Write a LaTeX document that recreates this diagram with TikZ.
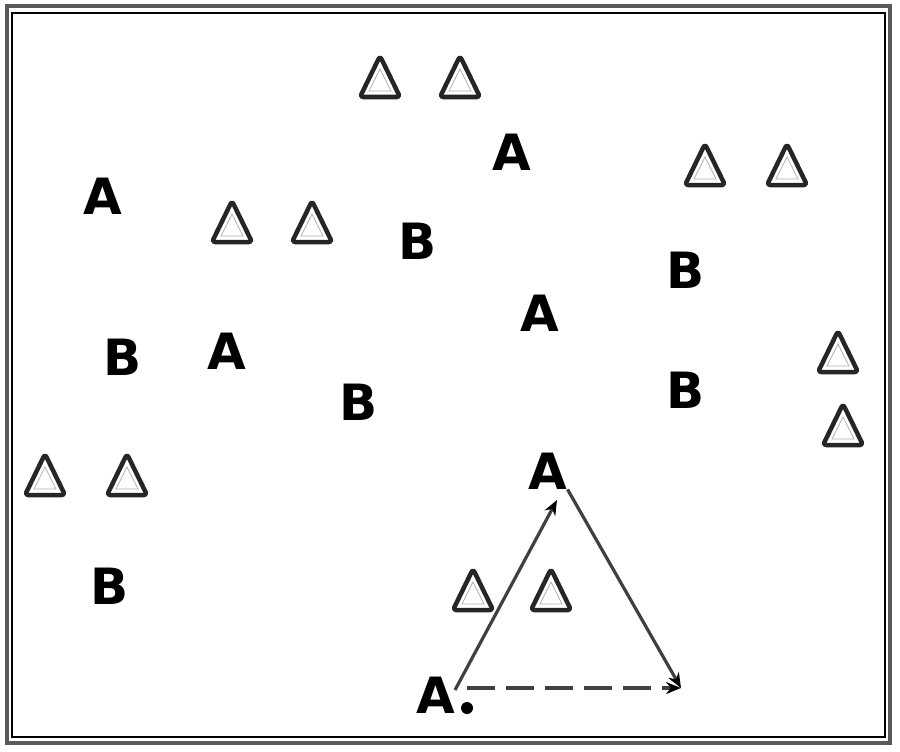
\documentclass[tikz,border=0pt]{standalone}
\usepackage{fontspec}
\setmainfont{DejaVu Sans}
\usetikzlibrary{arrows.meta}
\tikzset{
  letter/.style={inner sep=0pt, font=\fontsize{50}{50}\bfseries\selectfont, text=black},
  conn/.style={draw=gray!50!black, line width=3.2pt, -{Stealth[length=15pt,width=12pt,color=black]}},
  tri/.style={draw=black!85, line width=4.5pt, rounded corners=3pt, line join=round},
  triin/.style={draw=gray!60, line width=0.8pt},
}
\newcommand{\warntri}[2]{%
  \draw[tri] (#1,#2) ++(0,-21) -- ++(20,41) -- ++(-40,0) -- cycle;
  \draw[triin] (#1,#2) ++(0,-8) -- ++(11,22) -- ++(-22,0) -- cycle;
}
\begin{document}
\begin{tikzpicture}[x=1pt,y=-1pt]
\useasboundingbox (0,0) rectangle (900,752);
\fill[white] (0,0) rectangle (900,752);
% border
\draw[gray!70!black, line width=4pt] (6.5,6.5) rectangle (890,743);
\draw[black, line width=1.2pt] (12,13) rectangle (885,737);
% triangles
\warntri{380}{77}
\warntri{460}{77}
\warntri{705}{165}
\warntri{787}{165}
\warntri{232}{222}
\warntri{312}{222}
\warntri{838}{352}
\warntri{843}{425}
\warntri{45}{475}
\warntri{127}{475}
\warntri{473}{590}
\warntri{551}{590}
% letters
\node[letter] (a1) at (103,196) {A};
\node[letter] (a2) at (512,152) {A};
\node[letter] (a3) at (227,351) {A};
\node[letter] (a4) at (540,313) {A};
\node[letter] (a5) at (548,471) {A};
\node[letter] (a6) at (436,695) {A};
\node[letter] (b1) at (418,241) {B};
\node[letter] (b2) at (686,270) {B};
\node[letter] (b3) at (123,357) {B};
\node[letter] (b4) at (359,402) {B};
\node[letter] (b5) at (686,390) {B};
\node[letter] (b6) at (110,586) {B};
% small ball
\node[circle, fill=black, inner sep=0pt, minimum size=12pt] (ball) at (467,708) {};
% end point
\coordinate (tip) at (681,688);
% connectors
\draw[conn] (455,690) -- (557,500);
\draw[conn] (a5.south east) -- (tip);
\draw[conn, dash pattern=on 28pt off 11pt] (467,688) -- (tip);
\end{tikzpicture}
\end{document}
